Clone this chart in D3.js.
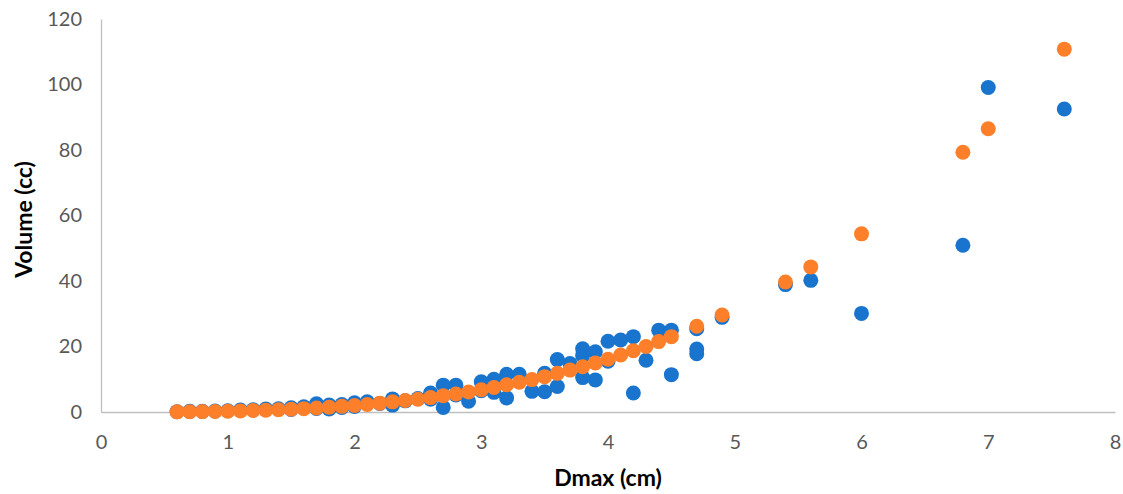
<!DOCTYPE html>
<html>
<head>
<meta charset="utf-8">
<script src="https://cdn.jsdelivr.net/npm/d3@7"></script>
<style>
  body { margin: 0; background: #fff; }
  .axis text { font-family: Lato, "Open Sans", sans-serif; font-size: 20px; fill: #595959; }
  .axis path { stroke: #bfbfbf; stroke-width: 1.3; }
  .title { font-family: Lato, "Open Sans", sans-serif; font-size: 23px; font-weight: bold; fill: #000; }
</style>
</head>
<body>
<svg class="chart"></svg>
<script>

// measured series (Dmax cm, Volume cc)
const measuredX = [0.6, 0.7, 0.8, 0.9, 1.0, 1.1, 1.2, 1.3, 1.4, 1.5, 1.5, 1.6, 1.7, 1.7, 1.8, 1.8,
    1.9, 1.9, 2.0, 2.0, 2.1, 2.2, 2.3, 2.3, 2.4, 2.5, 2.6, 2.6, 2.7, 2.7, 2.8, 2.8, 2.9,
    3.0, 3.0, 3.1, 3.1, 3.2, 3.2, 3.3, 3.4, 3.5, 3.5, 3.6, 3.6, 3.7, 3.8, 3.8, 3.8, 3.9, 3.9,
    4.0, 4.0, 4.1, 4.2, 4.2, 4.3, 4.4, 4.5, 4.5, 4.7, 4.7, 4.7, 4.9, 5.4, 5.6, 6.0, 6.8, 7.0, 7.6]
const measuredY = [0.1, 0.2, 0.2, 0.3, 0.4, 0.6, 0.7, 0.9, 1.0, 0.8, 1.3, 1.6, 2.5, 1.1, 2.1, 0.9,
    2.3, 1.4, 2.8, 1.7, 3.1, 2.6, 4.0, 2.1, 3.4, 4.1, 5.8, 3.9, 8.2, 1.4, 8.2, 5.2, 3.3,
    9.2, 6.5, 10.0, 6.0, 11.5, 4.3, 11.5, 6.3, 11.8, 6.2, 16.0, 7.8, 14.8, 19.3, 17.2, 10.5, 18.4, 9.8,
    21.6, 15.5, 22.0, 23.0, 5.8, 15.8, 25.0, 25.0, 11.4, 25.4, 19.2, 17.8, 28.9, 38.9, 40.2, 30.1, 50.9, 99.1, 92.5]

// estimated series
const estX = [0.6, 0.7, 0.8, 0.9, 1.0, 1.1, 1.2, 1.3, 1.4, 1.5, 1.6, 1.7, 1.8, 1.9, 2.0,
    2.1, 2.2, 2.3, 2.4, 2.5, 2.6, 2.7, 2.8, 2.9, 3.0, 3.1, 3.2, 3.3, 3.4, 3.5,
    3.6, 3.7, 3.8, 3.9, 4.0, 4.1, 4.2, 4.3, 4.4, 4.5, 4.7, 4.9, 5.4, 5.6, 6.0, 6.8, 7.0, 7.6]
const estY = [0.05, 0.09, 0.13, 0.18, 0.25, 0.34, 0.44, 0.55, 0.69, 0.85, 1.03, 1.24, 1.47, 1.73, 2.0,
    2.3, 2.7, 3.1, 3.5, 3.9, 4.4, 5.0, 5.5, 6.1, 6.8, 7.5, 8.3, 9.1, 9.9, 10.8,
    11.8, 12.8, 13.8, 15.0, 16.1, 17.4, 18.7, 20.0, 21.5, 23.0, 26.2, 29.6, 39.7, 44.3, 54.4, 79.3, 86.5, 110.8]

const xTicks = [0, 1, 2, 3, 4, 5, 6, 7, 8]
const yTicks = [0, 20, 40, 60, 80, 100, 120]

const draw = () => {

    const width = 1123
    const height = 494
    const left = 101, right = 1115, top = 19, bottom = 412

    const svg = d3.select('.chart')
        .attr('width', width)
        .attr('height', height)

    const x = d3.scaleLinear().domain([0, 8]).range([left, right])
    const y = d3.scaleLinear().domain([0, 120]).range([bottom, top])

    svg.append('g')
        .attr('class', 'axis')
        .attr('transform', `translate(0,${bottom})`)
        .call(d3.axisBottom(x).tickValues(xTicks).tickSize(0).tickPadding(23))

    svg.append('g')
        .attr('class', 'axis')
        .attr('transform', `translate(${left},0)`)
        .call(d3.axisLeft(y).tickValues(yTicks).tickSize(0).tickPadding(19))

    svg.selectAll('.axis text').attr('fill', null)

    const measured = measuredX.map((d, i) => [d, measuredY[i]])
    const est = estX.map((d, i) => [d, estY[i]])

    svg.append('g')
        .selectAll('circle')
        .data(measured)
        .enter()
        .append('circle')
        .attr('cx', d => x(d[0]))
        .attr('cy', d => y(d[1]))
        .attr('r', 7.5)
        .attr('fill', '#1874cd')

    svg.append('g')
        .selectAll('circle')
        .data(est)
        .enter()
        .append('circle')
        .attr('cx', d => x(d[0]))
        .attr('cy', d => y(d[1]))
        .attr('r', 7.5)
        .attr('fill', '#fd7f2a')

    svg.append('text')
        .attr('class', 'title')
        .attr('x', (left + right) / 2)
        .attr('y', 486)
        .attr('text-anchor', 'middle')
        .text('Dmax (cm)')

    svg.append('text')
        .attr('class', 'title')
        .attr('transform', `translate(32,${(top + bottom) / 2 + 4}) rotate(-90)`)
        .attr('text-anchor', 'middle')
        .text('Volume (cc)')

}

draw()
</script>
</body>
</html>
